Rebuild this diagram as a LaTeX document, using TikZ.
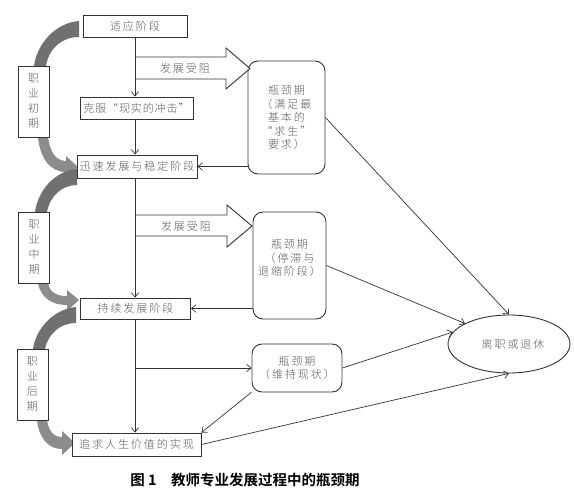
\documentclass[tikz,border=0pt]{standalone}
\usepackage{fontspec}
\setmainfont{Noto Sans CJK SC}
\newfontfamily\cjk[LetterSpace=18]{Noto Sans CJK SC Light}
\newfontfamily\cjktight[LetterSpace=8]{Noto Sans CJK SC Light}
\newfontfamily\cjkcap{Noto Sans CJK SC Bold}
\usetikzlibrary{arrows.meta,shapes.geometric}
\definecolor{txt}{HTML}{5A5A5A}
\definecolor{edge}{HTML}{333333}
\definecolor{arcdark}{HTML}{707070}
\definecolor{arclight}{HTML}{8C8C8C}
\tikzset{
  stagebox/.style={draw=edge,line width=0.9pt,fill=white,inner sep=0pt,font=\cjk\fontsize{11}{13}\selectfont,text=txt},
  neckbox/.style={draw=edge,line width=0.9pt,rounded corners=10pt,fill=white,inner sep=0pt,align=center,font=\cjk\fontsize{11}{13.5}\selectfont,text=txt},
  periodbox/.style={draw=edge,line width=0.9pt,fill=white,inner sep=0pt,align=center,font=\cjk\fontsize{11}{15}\selectfont,text=txt,minimum width=31pt,minimum height=71pt},
  conn/.style={draw=edge,line width=0.7pt,-{Straight Barb[length=4.5pt,width=7.5pt]}},
  blockarrow/.style={draw=edge,line width=0.9pt,fill=white,line join=miter},
  arctop/.style={fill=arcdark,draw=none},
  arcbot/.style={fill=arclight,draw=none}
}
\begin{document}
\begin{tikzpicture}[x=1pt,y=-1pt]
\useasboundingbox (0,0) rectangle (574,500);
% grey arcs
\path[arctop] (79,21) .. controls (55,23) and (37,44) .. (34,66) -- (46,66) .. controls (49,48) and (62,37) .. (79,37) -- cycle;
\path[arcbot] (48,137) .. controls (50,152) and (56,161) .. (66,161) -- (66,156) -- (78,167) -- (66,178) -- (66,172) .. controls (50,172) and (40,158) .. (38,137) -- cycle;
\path[arctop] (77,169) .. controls (55,171) and (38,190) .. (35,212) -- (47,212) .. controls (50,196) and (62,185) .. (77,185) -- cycle;
\path[arcbot] (48,283) .. controls (50,293) and (57,296) .. (67,296) -- (67,290) -- (79,300) -- (67,311) -- (67,305) .. controls (52,305) and (41,298) .. (38,283) -- cycle;
\path[arctop] (76,307) .. controls (54,309) and (36,328) .. (33,349) -- (45,349) .. controls (48,334) and (60,323) .. (76,323) -- cycle;
\path[arcbot] (47,420) .. controls (49,432) and (54,437) .. (62,437) -- (62,431) -- (75,443) -- (62,455) -- (62,449) .. controls (48,449) and (39,438) .. (37,420) -- cycle;
% stage boxes
\node[stagebox,minimum width=104pt,minimum height=22pt] (s1) at (135,26) {适应阶段};
\node[stagebox,minimum width=113pt,minimum height=22pt,font=\cjktight\fontsize{11}{13}\selectfont] (s2) at (136.5,108) {克服“现实的冲击”};
\node[stagebox,minimum width=120pt,minimum height=23pt] (s3) at (137,166.5) {迅速发展与稳定阶段};
\node[stagebox,minimum width=110pt,minimum height=21pt] (s4) at (135.5,308.5) {持续发展阶段};
\node[stagebox,minimum width=129pt,minimum height=23pt] (s5) at (136.5,444.5) {追求人生价值的实现};
% period boxes
\node[periodbox] (p1) at (33.5,101.5) {职\\业\\初\\期};
\node[periodbox] (p2) at (34,247.5) {职\\业\\中\\期};
\node[periodbox] (p3) at (32.5,384.5) {职\\业\\后\\期};
% bottleneck boxes
\node[neckbox,minimum width=77pt,minimum height=113pt] (b1) at (286.5,117.5) {瓶颈期\\（满足最\\基本的\\“求生”\\要求）};
\node[neckbox,minimum width=73pt,minimum height=107pt] (b2) at (289.5,265.5) {瓶颈期\\（停滞与\\退缩阶段）\\[2.5pt]};
\node[neckbox,minimum width=90pt,minimum height=48pt] (b3) at (297,368) {瓶颈期\\（维持现状）};
\node[ellipse,draw=edge,line width=0.9pt,fill=white,minimum width=122pt,minimum height=58pt,inner sep=0pt,font=\cjk\fontsize{11}{13}\selectfont,text=txt] (e) at (509,344) {\hspace{8pt}离职或退休};
% block arrows
\draw[blockarrow] (136,57) -- (226,57) -- (226,48) -- (250,68.5) -- (226,89) -- (226,79) -- (136,79);
\node[font=\cjk\fontsize{11}{13}\selectfont,text=txt] (t1) at (185,68) {发展受阻};
\draw[blockarrow] (136,215) -- (227,215) -- (227,205) -- (252,226) -- (227,247) -- (227,236) -- (136,236);
\node[font=\cjk\fontsize{11}{13}\selectfont,text=txt] (t2) at (186,226) {发展受阻};
% trunk connectors
\draw[conn] (s1.south) -- (s1.south |- s2.north);
\draw[conn] (s1.south |- s2.south) -- (s1.south |- s3.north);
\draw[conn] (s1.south |- s3.south) -- (s1.south |- s4.north);
\draw[conn] (s1.south |- s4.south) -- (s1.south |- s5.north);
\draw[conn] (s1.south |- b3.west) -- (b3.west);
% feedback connectors
\draw[conn] (b1.west |- s3.east) -- (s3.east);
\draw[conn] (b2.west |- s4.east) -- (s4.east);
\draw[conn] (b3.208) -- (s5.north east);
% to ellipse
\draw[conn] (b1.east) -- (e.north);
\draw[conn] (b2.east) -- (e.155);
\draw[conn] (b3.east) -- (e.168);
\draw[conn] (s5.east) -- (e.south);
% caption
\node[font=\cjkcap\fontsize{14.5}{16}\selectfont,text=black] (cap) at (245,480) {图 1\quad 教师专业发展过程中的瓶颈期};
\end{tikzpicture}
\end{document}
